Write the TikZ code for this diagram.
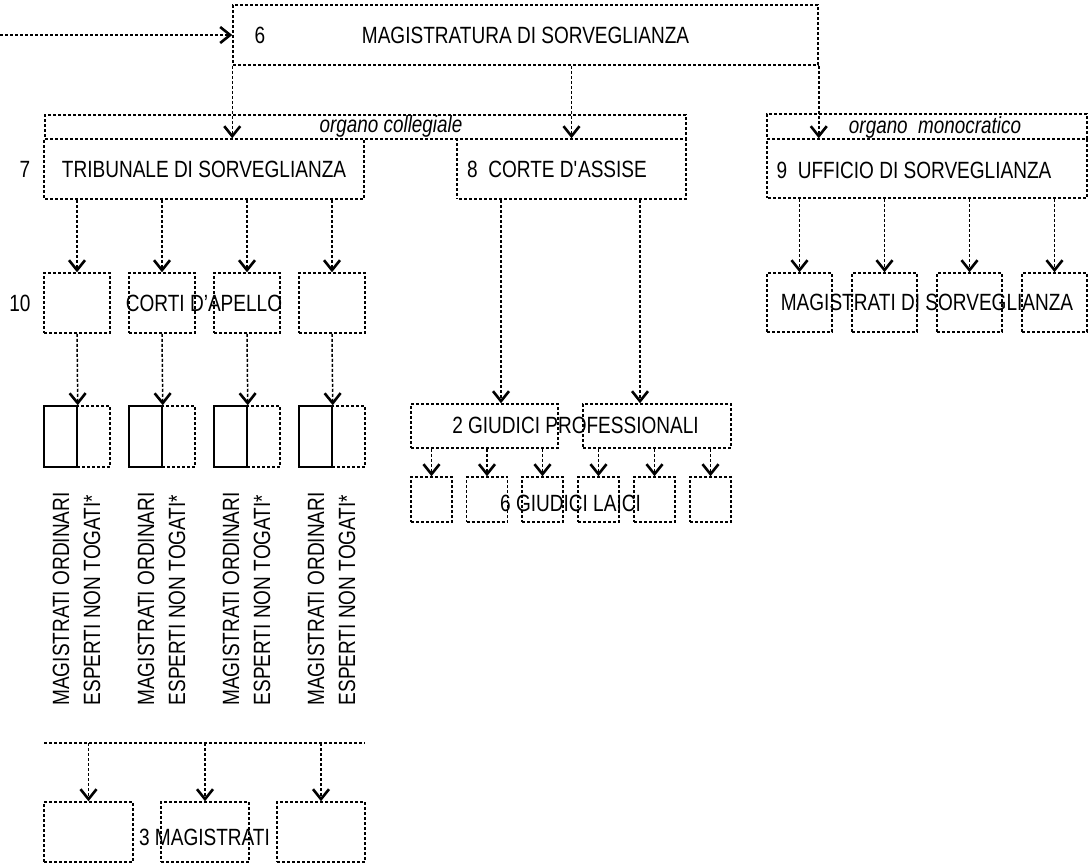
\documentclass[tikz,border=0pt]{standalone}
\usepackage{fontspec}
\setmainfont[FakeStretch=0.81]{Liberation Sans}
\usetikzlibrary{arrows.meta}
\tikzset{dotbox/.style={draw,dash pattern=on 3pt off 2pt,line width=1.5pt,inner sep=0pt}}
\tikzset{fullbox/.style={draw,line width=1.5pt,inner sep=0pt}}
\tikzset{lab/.style={inner sep=0pt,text height=17pt,text depth=0pt}}
\tikzset{dotline/.style={dash pattern=on 3pt off 2pt,line width=1.5pt}}
\tikzset{conn/.style={dotline,-{Straight Barb[length=10pt,width=16pt,line width=2.6pt]}}}
\newcommand{\itfont}{\fontsize{23.3}{26}\selectfont\itshape}

\begin{document}
\begin{tikzpicture}[x=1pt,y=-1pt,font=\fontsize{23.5}{26}\selectfont]
	\useasboundingbox (0,0) rectangle (1092,863);
	% top
	\coordinate (in) at (0,35);
	\node[dotbox,lab,minimum width=585pt,minimum height=60pt] (ms) at (525.5,35) {MAGISTRATURA DI SORVEGLIANZA};
	\node[lab] (n6) at (260,35) {6};
	% organo collegiale
	\node[dotbox,minimum width=641pt,minimum height=24pt] (coll) at (365.5,127) {};
	\node[lab,font=\itfont] (colltxt) at (391,124) {organo collegiale};
	\node[lab] (n7) at (25,169) {7};
	\node[dotbox,dash phase=4pt,lab,minimum width=320pt,minimum height=60pt] (trib) at (204,169) {TRIBUNALE DI SORVEGLIANZA};
	\node[dotbox,dash phase=3pt,minimum width=229pt,minimum height=60pt] (corte) at (571.5,169) {};
	\node[lab] (cortetxt) at (557,169) {8\ \ CORTE D\textquotesingle ASSISE};
	% organo monocratico
	\node[dotbox,minimum width=320pt,minimum height=25pt] (mono) at (927,126.5) {};
	\node[lab,font=\itfont] (monotxt) at (935,124.5) {organo\ \ monocratico};
	\node[dotbox,dash phase=4pt,minimum width=320pt,minimum height=59pt] (uff) at (927,168.5) {};
	\node[lab] (ufftxt) at (914,170) {9\ \ UFFICIO DI SORVEGLIANZA};
	
	% corti d'apello
	\node[lab] (n10) at (20,303) {10};
	\node[dotbox,minimum width=66pt,minimum height=60pt] (c1) at (77,303) {};
	\node[dotbox,minimum width=66pt,minimum height=60pt] (c2) at (162,303) {};
	\node[dotbox,minimum width=66pt,minimum height=60pt] (c3) at (247,303) {};
	\node[dotbox,minimum width=66pt,minimum height=60pt] (c4) at (332,303) {};
	\node[lab] (corti) at (204,303) {CORTI D’APELLO};
	
	\node[dotbox,minimum width=33pt,minimum height=61pt] (e1) at (93.5,436.5) {};
	\node[dotbox,minimum width=33pt,minimum height=61pt] (e2) at (178.5,436.5) {};
	\node[dotbox,minimum width=33pt,minimum height=61pt] (e3) at (263.5,436.5) {};
	\node[dotbox,minimum width=33pt,minimum height=61pt] (e4) at (348.5,436.5) {};
	\node[fullbox,minimum width=33pt,minimum height=61pt] (a1) at (60.5,436.5) {};
	\node[fullbox,minimum width=33pt,minimum height=61pt] (a2) at (145.5,436.5) {};
	\node[fullbox,minimum width=33pt,minimum height=61pt] (a3) at (230.5,436.5) {};
	\node[fullbox,minimum width=33pt,minimum height=61pt] (a4) at (315.5,436.5) {};
	
	\node[lab,rotate=90] (mag1) at (60.5,599) {MAGISTRATI ORDINARI};
	\node[lab,rotate=90] (esp1) at (91.5,600) {ESPERTI NON TOGATI*};
	\node[lab,rotate=90] (mag2) at (145.5,599) {MAGISTRATI ORDINARI};
	\node[lab,rotate=90] (esp2) at (176.5,600) {ESPERTI NON TOGATI*};
	\node[lab,rotate=90] (mag3) at (230.5,599) {MAGISTRATI ORDINARI};
	\node[lab,rotate=90] (esp3) at (261.5,600) {ESPERTI NON TOGATI*};
	\node[lab,rotate=90] (mag4) at (315.5,599) {MAGISTRATI ORDINARI};
	\node[lab,rotate=90] (esp4) at (346.5,600) {ESPERTI NON TOGATI*};
	
	% 3 magistrati
	\coordinate (ba) at (44,743);
	\coordinate (bb) at (365,743);
	\node[dotbox,minimum width=89pt,minimum height=60pt] (b1) at (88.5,832) {};
	\node[dotbox,minimum width=88pt,minimum height=60pt] (b2) at (205,832) {};
	\node[dotbox,minimum width=88pt,minimum height=60pt] (b3) at (321,832) {};
	\node[lab] (tremag) at (204.5,837) {3 MAGISTRATI};
	
	% giudici
	\node[dotbox,minimum width=147pt,minimum height=44pt] (g1) at (484.5,426) {};
	\node[dotbox,minimum width=148pt,minimum height=44pt] (g2) at (657,426) {};
	\node[lab] (prof) at (575.5,425) {2 GIUDICI PROFESSIONALI};
	\node[dotbox,minimum width=41pt,minimum height=45pt] (l1) at (431.5,499.5) {};
	\node[dotbox,minimum width=41pt,minimum height=45pt] (l2) at (487,499.5) {};
	\node[dotbox,minimum width=41pt,minimum height=45pt] (l3) at (542.5,499.5) {};
	\node[dotbox,minimum width=41pt,minimum height=45pt] (l4) at (598.5,499.5) {};
	\node[dotbox,minimum width=41pt,minimum height=45pt] (l5) at (654.5,499.5) {};
	\node[dotbox,minimum width=41pt,minimum height=45pt] (l6) at (710.5,499.5) {};
	\node[lab] (laici) at (570.5,503) {6 GIUDICI LAICI};
	
	% magistrati di sorveglianza
	\node[dotbox,minimum width=65pt,minimum height=59pt] (m1) at (799.5,302.5) {};
	\node[dotbox,minimum width=65pt,minimum height=59pt] (m2) at (884.5,302.5) {};
	\node[dotbox,minimum width=65pt,minimum height=59pt] (m3) at (969.5,302.5) {};
	\node[dotbox,minimum width=65pt,minimum height=59pt] (m4) at (1054.5,302.5) {};
	\node[lab] (magsorv) at (927,302) {MAGISTRATI DI SORVEGLIANZA};
	
	\draw[conn] (in) -- (ms.west);
	\draw[conn] (ms.south west) -- (ms.south west |- trib.north);
	\draw[conn] (corte.north |- ms.south) -- (corte.north);
	\draw[conn] (ms.south east) -- (ms.south east |- uff.north);
	
	\draw[conn] (c1.north |- trib.south) -- (c1.north);
	\draw[conn] (c2.north |- trib.south) -- (c2.north);
	\draw[conn] (c3.north |- trib.south) -- (c3.north);
	\draw[conn] (c4.north |- trib.south) -- (c4.north);
	\draw[conn] (c1.south) -- (a1.north east);
	\draw[conn] (c2.south) -- (a2.north east);
	\draw[conn] (c3.south) -- (a3.north east);
	\draw[conn] (c4.south) -- (a4.north east);
	
	\draw[dotline] (ba) -- (bb);
	\draw[conn] (b1.north |- ba) -- (b1.north);
	\draw[conn] (b2.north |- ba) -- (b2.north);
	\draw[conn] (b3.north |- ba) -- (b3.north);
	
	\draw[conn] ([xshift=16.5pt]g1.north |- corte.south) -- ([xshift=16.5pt]g1.north);
	\draw[conn] ([xshift=-17pt]g2.north |- corte.south) -- ([xshift=-17pt]g2.north);
	\draw[conn] (l1.north |- g1.south) -- (l1.north);
	\draw[conn] (l2.north |- g1.south) -- (l2.north);
	\draw[conn] (l3.north |- g1.south) -- (l3.north);
	\draw[conn] (l4.north |- g2.south) -- (l4.north);
	\draw[conn] (l5.north |- g2.south) -- (l5.north);
	\draw[conn] (l6.north |- g2.south) -- (l6.north);
	
	\draw[conn] (m1.north |- uff.south) -- (m1.north);
	\draw[conn] (m2.north |- uff.south) -- (m2.north);
	\draw[conn] (m3.north |- uff.south) -- (m3.north);
	\draw[conn] (m4.north |- uff.south) -- (m4.north);
\end{tikzpicture}
\end{document}
